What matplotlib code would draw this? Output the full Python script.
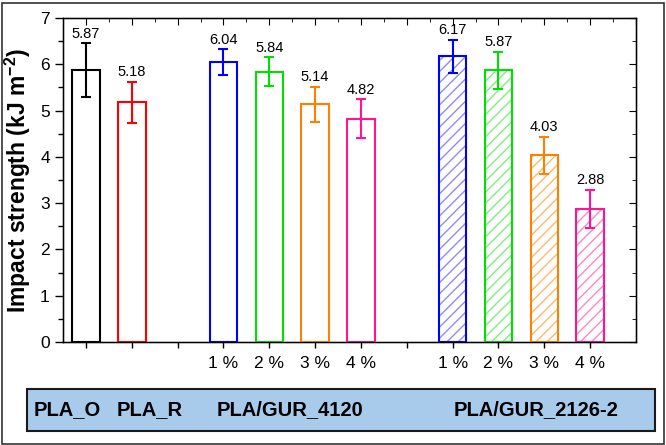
import matplotlib
matplotlib.use("Agg")
import matplotlib.pyplot as plt
from matplotlib.patches import Rectangle
from matplotlib.ticker import MultipleLocator

plt.rcParams['font.family'] = ['Liberation Sans', 'DejaVu Sans']
plt.rcParams['mathtext.fontset'] = 'custom'
plt.rcParams['mathtext.rm'] = 'Liberation Sans'
plt.rcParams['mathtext.bf'] = 'Liberation Sans:bold'

positions = [1, 2, 4, 5, 6, 7, 9, 10, 11, 12]
values = [5.87, 5.18, 6.04, 5.84, 5.14, 4.82, 6.17, 5.87, 4.03, 2.88]
errors = [0.58, 0.44, 0.28, 0.31, 0.38, 0.42, 0.35, 0.40, 0.40, 0.41]
colors = ['#000000', '#ff0000', '#0000ff', '#00e000', '#ff8000', '#ff1493',
          '#0000ff', '#00e000', '#ff8000', '#ff1493']
hatch_colors = [None, None, None, None, None, None,
                '#8c8cff', '#80ee80', '#ffb870', '#ff88c4']
tick_pos = list(range(1, 13))
tick_labels = ['', '', '', '1 %', '2 %', '3 %', '4 %', '', '1 %', '2 %', '3 %', '4 %']
group_labels = ['PLA_O', 'PLA_R', 'PLA/GUR_4120', 'PLA/GUR_2126-2']
group_x = [67, 150, 290, 536]

fig = plt.figure(figsize=(6.66, 4.45), dpi=100)
ax = fig.add_axes([63/666, 1-342/445, (636-63)/666, (342-18)/445])

for x, v, e, c, hc in zip(positions, values, errors, colors, hatch_colors):
    if hc is not None:
        ax.bar(x, v, width=0.6, color='none', edgecolor=hc, hatch='///', linewidth=0, zorder=2)
    ax.bar(x, v, width=0.6, color='none', edgecolor=c, linewidth=1.5, zorder=3)
    ax.errorbar(x, v, yerr=e, fmt='none', ecolor=c, elinewidth=1.5, capsize=3.5,
                capthick=1.5, zorder=4)
    ax.annotate(f'{v:.2f}', (x, v + e), xytext=(0, 2), textcoords='offset points',
                ha='center', va='bottom', fontsize=10.5)

ax.set_xlim(0.5, 13)
ax.set_ylim(0, 7)
ax.set_xticks(tick_pos)
ax.set_xticklabels(tick_labels, fontsize=12.5)
ax.yaxis.set_major_locator(MultipleLocator(1))
ax.yaxis.set_minor_locator(MultipleLocator(0.5))
ax.tick_params(axis='y', labelsize=12.5, direction='out', length=6, width=1)
ax.tick_params(axis='y', which='minor', direction='out', length=3.5, width=1)
ax.tick_params(axis='x', direction='out', length=4, width=1, pad=6)
ax.set_ylabel('Impact strength (kJ m$^{\\mathbf{-2}}$)', fontsize=16.5, fontweight='bold', labelpad=5)
for s in ax.spines.values():
    s.set_linewidth(1)

# mirrored ticks on top and right
axt = ax.twiny()
axt.set_xlim(ax.get_xlim())
axt.xaxis.set_major_locator(MultipleLocator(1))
axt.xaxis.set_minor_locator(MultipleLocator(0.5))
axt.tick_params(axis='x', which='major', direction='in', length=5, labeltop=False)
axt.tick_params(axis='x', which='minor', direction='in', length=3, labeltop=False)
axr = ax.twinx()
axr.set_ylim(ax.get_ylim())
axr.yaxis.set_major_locator(MultipleLocator(1))
axr.yaxis.set_minor_locator(MultipleLocator(0.5))
axr.tick_params(axis='y', which='major', direction='in', length=5, labelright=False)
axr.tick_params(axis='y', which='minor', direction='in', length=3, labelright=False)

# group label box
fig.patches.append(Rectangle((27/666, 1-431/445), (655-27)/666, (431-389)/445,
                             transform=fig.transFigure, facecolor='#a8cbec',
                             edgecolor='#1a1a1a', linewidth=1.5, zorder=1))
for gx, gl in zip(group_x, group_labels):
    fig.text(gx/666, 1-410/445, gl, ha='center', va='center', fontsize=14.5,
             fontweight='bold')

# outer border
fig.patches.append(Rectangle((1.5/666, 1.5/445), 662/666, 441/445, transform=fig.transFigure,
                             facecolor='none', edgecolor='#333333', linewidth=1.2))

fig.savefig('out.png', dpi=100)
